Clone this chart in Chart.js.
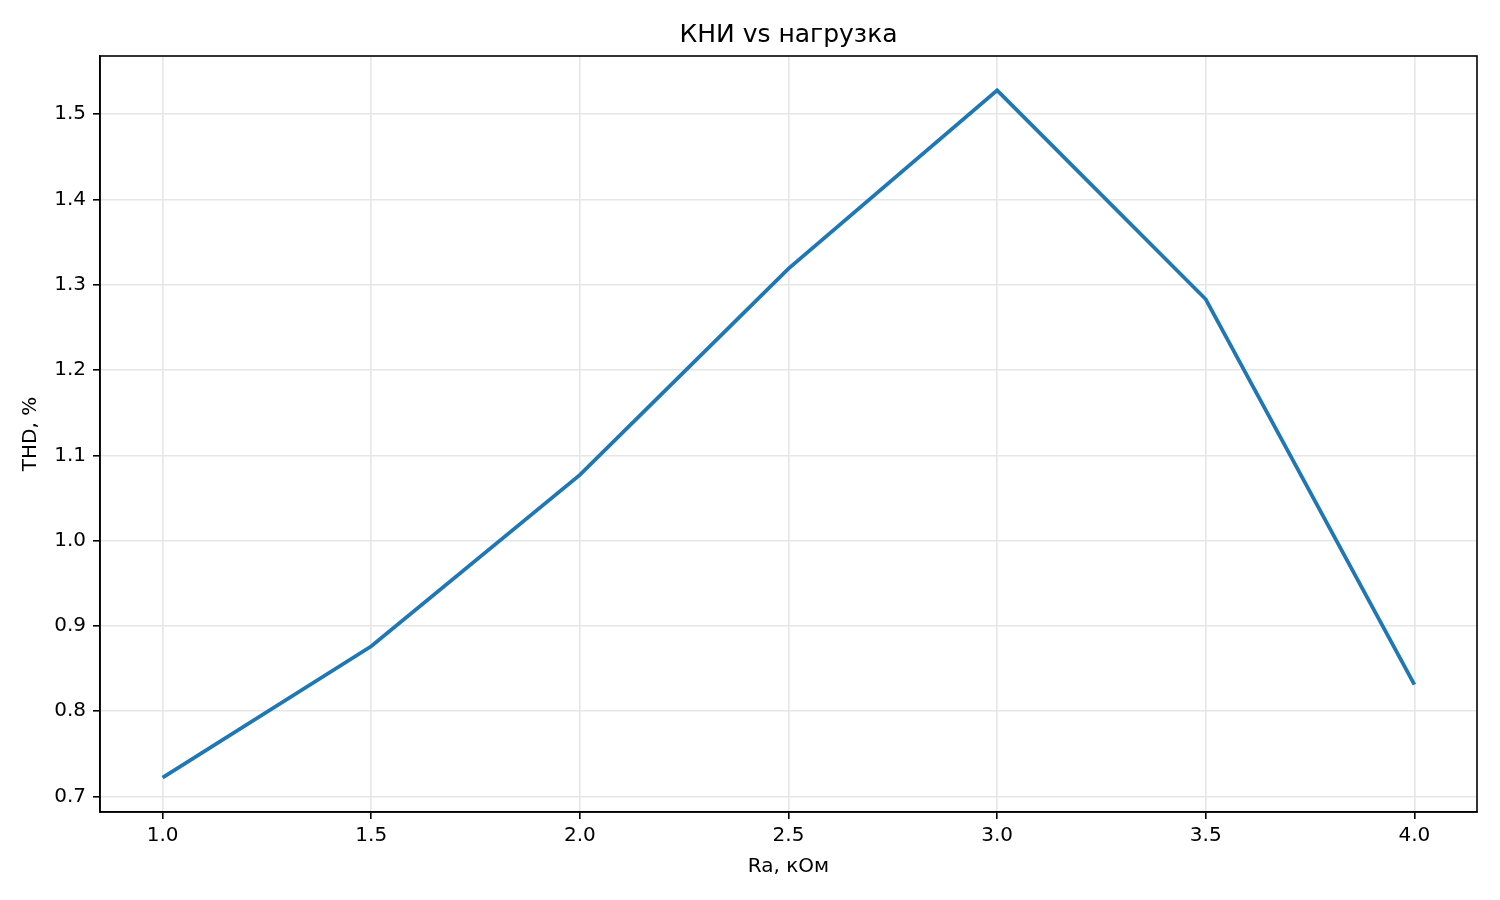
<!DOCTYPE html>
<html>
<head>
<meta charset="utf-8">
<script src="https://cdn.jsdelivr.net/npm/chart.js@4"></script>
<style>
  html, body { margin: 0; padding: 0; background: white; }
</style>
</head>
<body>
<canvas id="chart" width="1500" height="900"></canvas>
<script>
const ra = [1.0, 1.5, 2.0, 2.5, 3.0, 3.5, 4.0];
const thd = [0.722, 0.876, 1.077, 1.319, 1.528, 1.283, 0.831];
const xTicks = [1.0, 1.5, 2.0, 2.5, 3.0, 3.5, 4.0];
const yTicks = [0.7, 0.8, 0.9, 1.0, 1.1, 1.2, 1.3, 1.4, 1.5];

const font = "'DejaVu Sans', sans-serif";
const gridStyle = {
  color: "#e6e6e6",
  lineWidth: 1.6,
  tickColor: "black",
  tickLength: 7,
  tickWidth: 1.6,
};

// matplotlib-like frame around the plot area
const frame = {
  id: "frame",
  afterDraw(chart) {
    const { ctx, chartArea: a } = chart;
    ctx.save();
    ctx.strokeStyle = "black";
    ctx.lineWidth = 1.6;
    ctx.strokeRect(a.left, a.top, a.right - a.left, a.bottom - a.top);
    ctx.restore();
  },
};

new Chart(document.getElementById("chart"), {
  type: "line",
  data: {
    datasets: [{
      data: ra.map((x, i) => ({ x, y: thd[i] })),
      borderColor: "#1f77b4",
      borderWidth: 3.8,
      pointRadius: 0,
      tension: 0,
    }],
  },
  options: {
    responsive: false,
    devicePixelRatio: 1,
    animation: false,
    events: [],
    layout: { padding: { left: 0, right: 23, top: 0, bottom: 0 } },
    plugins: {
      legend: { display: false },
      tooltip: { enabled: false },
      title: {
        display: true,
        fullSize: false,
        text: "КНИ vs нагрузка",
        color: "black",
        font: { family: font, size: 25, weight: "normal", lineHeight: 1.2 },
        padding: { top: 20, bottom: 6 },
      },
    },
    scales: {
      x: {
        type: "linear",
        min: 0.85,
        max: 4.15,
        afterBuildTicks: (s) => { s.ticks = xTicks.map((v) => ({ value: v })); },
        afterFit: (s) => { s.height = 88; },
        grid: gridStyle,
        border: { display: true, color: "black", width: 1.6 },
        ticks: {
          color: "black",
          padding: 5,
          maxRotation: 0,
          font: { family: font, size: 20 },
          callback: (v) => v.toFixed(1),
        },
        title: {
          display: true,
          text: "Ra, кОм",
          color: "black",
          font: { family: font, size: 20, lineHeight: 1.2 },
          padding: { top: 4, bottom: 21 },
        },
      },
      y: {
        type: "linear",
        min: 0.6817,
        max: 1.5683,
        afterBuildTicks: (s) => { s.ticks = yTicks.map((v) => ({ value: v })); },
        afterFit: (s) => { s.width = 100; },
        grid: gridStyle,
        border: { display: true, color: "black", width: 1.6 },
        ticks: {
          color: "black",
          padding: 7,
          font: { family: font, size: 20 },
          callback: (v) => v.toFixed(1),
        },
        title: {
          display: true,
          text: "THD, %",
          color: "black",
          font: { family: font, size: 20, lineHeight: 1.2 },
          padding: { top: 18.5, bottom: 4 },
        },
      },
    },
  },
  plugins: [frame],
});
</script>
</body>
</html>
